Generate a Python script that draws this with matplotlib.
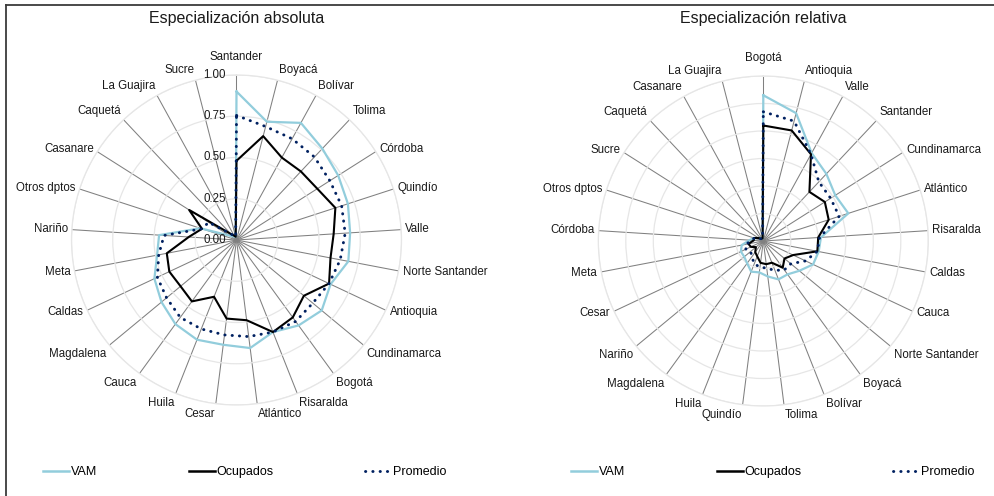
import numpy as np
import matplotlib
matplotlib.use("Agg")
import matplotlib.pyplot as plt
from matplotlib.lines import Line2D

plt.rcParams['font.family'] = ['Liberation Sans', 'DejaVu Sans']

# ---------------- data ----------------
title_abs = "Especialización absoluta"
title_rel = "Especialización relativa"

cats_abs = ["Santander", "Boyacá", "Bolívar", "Tolima", "Córdoba", "Quindío", "Valle",
            "Norte Santander", "Antioquia", "Cundinamarca", "Bogotá", "Risaralda",
            "Atlántico", "Cesar", "Huila", "Cauca", "Magdalena", "Caldas", "Meta",
            "Nariño", "Otros dptos", "Casanare", "Caquetá", "La Guajira", "Sucre"]
vam_abs = [0.90, 0.74, 0.81, 0.76, 0.73, 0.71, 0.69, 0.69, 0.63, 0.67, 0.64, 0.60,
           0.66, 0.64, 0.65, 0.63, 0.59, 0.55, 0.49, 0.47, 0.23, 0.05, 0.03, 0.02, 0.02]
ocu_abs = [0.48, 0.65, 0.57, 0.57, 0.58, 0.63, 0.59, 0.58, 0.62, 0.53, 0.58, 0.60,
           0.49, 0.48, 0.37, 0.46, 0.44, 0.45, 0.43, 0.29, 0.22, 0.34, 0.05, 0.03, 0.02]
pro_abs = [0.755, 0.71, 0.70, 0.69, 0.67, 0.67, 0.66, 0.64, 0.62, 0.60, 0.61, 0.60,
           0.59, 0.58, 0.58, 0.58, 0.55, 0.53, 0.48, 0.44, 0.22, 0.20, 0.05, 0.03, 0.02]
rticks_abs = [0.0, 0.25, 0.50, 0.75, 1.00]
rtick_labels_abs = ["0.00", "0.25", "0.50", "0.75", "1.00"]

cats_rel = ["Bogotá", "Antioquia", "Valle", "Santander", "Cundinamarca", "Atlántico",
            "Risaralda", "Caldas", "Cauca", "Norte Santander", "Boyacá", "Bolívar",
            "Tolima", "Quindío", "Huila", "Magdalena", "Nariño", "Cesar", "Meta",
            "Córdoba", "Otros dptos", "Sucre", "Caquetá", "Casanare", "La Guajira"]
vam_rel = [1.06, 0.96, 0.73, 0.67, 0.62, 0.65, 0.42, 0.41, 0.40, 0.34, 0.30, 0.30,
           0.26, 0.23, 0.24, 0.20, 0.18, 0.18, 0.16, 0.10, 0.07, 0.04, 0.02, 0.02, 0.02]
ocu_rel = [0.84, 0.83, 0.72, 0.49, 0.53, 0.50, 0.40, 0.40, 0.24, 0.20, 0.24, 0.17,
           0.17, 0.16, 0.12, 0.10, 0.07, 0.10, 0.11, 0.07, 0.07, 0.04, 0.02, 0.02, 0.02]
pro_rel = [0.94, 0.90, 0.72, 0.59, 0.58, 0.58, 0.41, 0.40, 0.34, 0.26, 0.26, 0.23,
           0.20, 0.19, 0.18, 0.14, 0.12, 0.14, 0.13, 0.08, 0.07, 0.04, 0.02, 0.02, 0.02]
rticks_rel = [0.0, 0.2, 0.4, 0.6, 0.8, 1.0, 1.2]

series_names = ["VAM", "Ocupados", "Promedio"]

# ---------------- style ----------------
C_VAM = "#92cddc"
C_OCU = "#000000"
C_PRO = "#002060"
DOT = (0, (0.1, 2.4))
TXT = "#1a1a1a"

W, H = 994, 496
fig = plt.figure(figsize=(W / 100, H / 100), dpi=100)
fig.patch.set_facecolor("white")

R = 165


def make_radar(cx, cy, cats, vam, ocu, pro, rticks, rmax, ticklabels=None):
    ax = fig.add_axes([(cx - R) / W, (H - cy - R) / H, 2 * R / W, 2 * R / H],
                      projection="polar")
    n = len(cats)
    ang = np.linspace(0, 2 * np.pi, n, endpoint=False)
    ax.set_theta_zero_location("N")
    ax.set_theta_direction(-1)
    ax.set_ylim(0, rmax)
    ax.set_xticks(ang)
    ax.set_xticklabels([])
    ax.set_yticks(rticks)
    ax.set_yticklabels([])
    ax.xaxis.grid(True, color="#808080", lw=0.75)
    ax.yaxis.grid(True, color="#e6e6e6", lw=0.9)
    ax.spines["polar"].set_color("#e6e6e6")
    ax.spines["polar"].set_linewidth(0.9)
    ax.set_facecolor("none")
    ax.tick_params(pad=0, length=0)

    a = np.append(ang, ang[0])
    ax.plot(a, np.append(vam, vam[0]), color=C_VAM, lw=1.6, zorder=3)
    ax.plot(a, np.append(ocu, ocu[0]), color=C_OCU, lw=1.5, zorder=4)
    ax.plot(a, np.append(pro, pro[0]), color=C_PRO, lw=2.1, ls=DOT,
            dash_capstyle="round", zorder=5)

    for th, lab in zip(ang, cats):
        s, c = np.sin(th), np.cos(th)
        if abs(s) < 0.05:
            ha = "center"
        else:
            ha = "left" if s > 0 else "right"
        if c > 0.6:
            va = "bottom"
        elif c < -0.6:
            va = "top"
        else:
            va = "center"
        off = 9 if abs(s) < 0.05 else 3
        ax.annotate(lab, xy=(th, rmax), xytext=(off * s, off * c),
                    textcoords="offset points", ha=ha, va=va,
                    fontsize=8.3, color=TXT, annotation_clip=False)

    if ticklabels is not None:
        for v, t in zip(rticks, ticklabels):
            ax.annotate(t, xy=(0, v), xytext=(-7.5, 0), textcoords="offset points",
                        ha="right", va="center", fontsize=8.3, color=TXT,
                        annotation_clip=False, zorder=6)
    return ax


make_radar(236.5, 240, cats_abs, vam_abs, ocu_abs, pro_abs, rticks_abs, 1.0,
           rtick_labels_abs)
make_radar(763.3, 241, cats_rel, vam_rel, ocu_rel, pro_rel, rticks_rel, 1.2)

fig.text(237 / W, 1 - 18 / H, title_abs, ha="center", va="center", fontsize=11.5,
         color=TXT)
fig.text(763 / W, 1 - 18 / H, title_rel, ha="center", va="center", fontsize=11.5,
         color=TXT)

# legends
handles = [Line2D([], [], color=C_VAM, lw=1.8),
           Line2D([], [], color=C_OCU, lw=1.8),
           Line2D([], [], color=C_PRO, lw=2.1, ls=DOT, dash_capstyle="round")]
for x0 in (43, 571):
    fig.legend(handles, series_names, loc="center left",
               bbox_to_anchor=(x0 / W, 1 - 472 / H), ncol=3, frameon=False,
               fontsize=9, handlelength=2.1, handletextpad=0.15,
               columnspacing=7.3, borderpad=0, borderaxespad=0)

# outer frame (top and left edges visible)
fig.add_artist(Line2D([6 / W, 6 / W], [0, 1 - 5 / H], transform=fig.transFigure,
                      color="#3a3a3a", lw=1.3))
fig.add_artist(Line2D([6 / W, 1], [1 - 5 / H, 1 - 5 / H], transform=fig.transFigure,
                      color="#3a3a3a", lw=1.3))

fig.savefig("out.png", dpi=100)
